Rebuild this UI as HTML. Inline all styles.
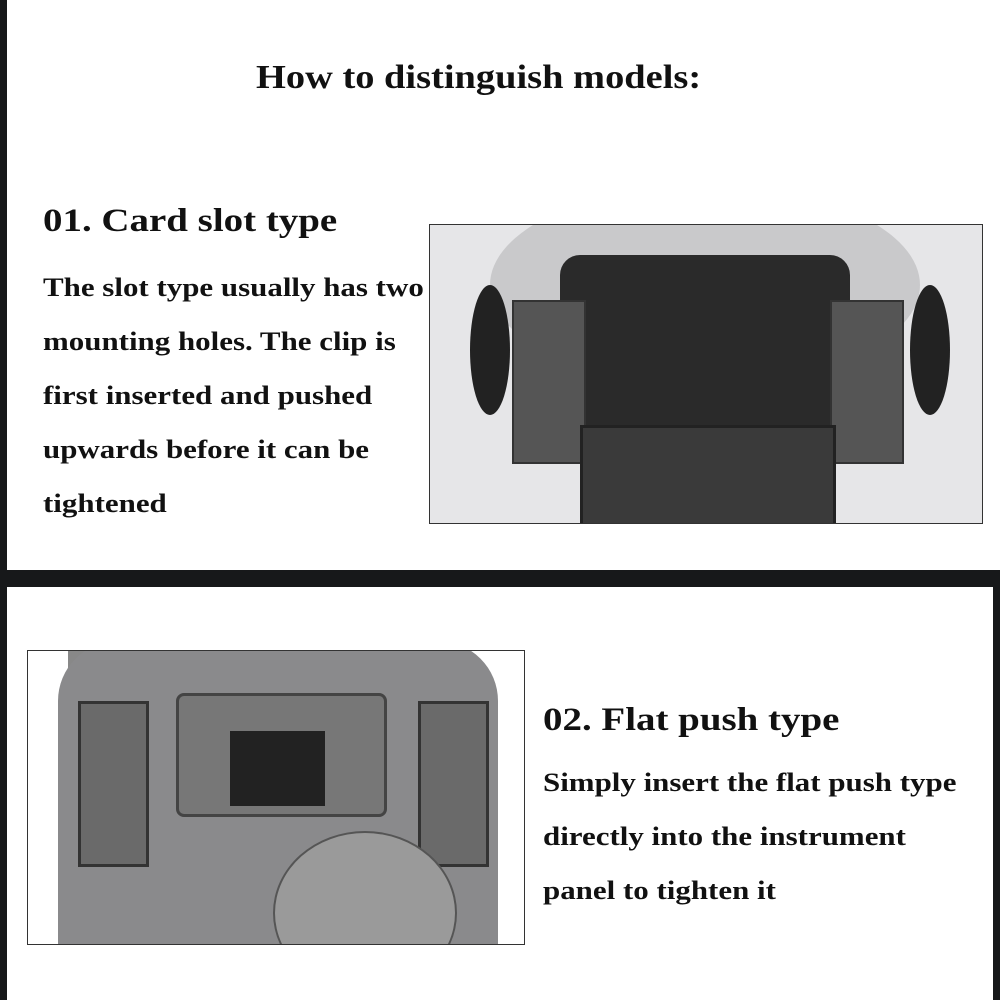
<!DOCTYPE html>
<html><head><style>
body{margin:0;width:1000px;height:1000px;background:#17181a;position:relative;overflow:hidden;font-family:"Liberation Serif",serif;}
.p{position:absolute;background:#fff;}
.t{position:absolute;color:#111;font-weight:bold;white-space:nowrap;transform-origin:0 0;}
.ph{position:absolute;border:1px solid #333;overflow:hidden;background:#ddd;}
.a{position:absolute;}
</style></head><body>
<div class="p" style="left:7px;top:0;width:993px;height:570px"></div>
<div class="p" style="left:7px;top:587px;width:986px;height:413px"></div>
<div class="t" style="left:256px;top:59px;font-size:34px;transform:scaleX(1.13)">How to distinguish models:</div>
<div class="t" style="left:43px;top:203px;font-size:33px;transform:scaleX(1.18)">01. Card slot type</div>
<div class="t" style="left:43px;top:261px;font-size:26px;line-height:54.1px;transform:scaleX(1.19)">The slot type usually has two<br>mounting holes. The clip is<br>first inserted and pushed<br>upwards before it can be<br>tightened</div>
<div class="ph" style="left:429px;top:224px;width:552px;height:298px;background:#e6e6e8">
 <div class="a" style="left:60px;top:-40px;width:430px;height:200px;border-radius:50%;background:#c9c9cb"></div>
 <div class="a" style="left:40px;top:60px;width:40px;height:130px;border-radius:50%;background:#222"></div>
 <div class="a" style="left:480px;top:60px;width:40px;height:130px;border-radius:50%;background:#222"></div>
 <div class="a" style="left:130px;top:30px;width:290px;height:200px;background:#2a2a2a;border-radius:20px"></div>
 <div class="a" style="left:82px;top:75px;width:70px;height:160px;background:#555;border:2px solid #333"></div>
 <div class="a" style="left:400px;top:75px;width:70px;height:160px;background:#555;border:2px solid #333"></div>
 <div class="a" style="left:150px;top:200px;width:250px;height:95px;background:#3a3a3a;border:3px solid #222"></div>
</div>
<div class="ph" style="left:27px;top:650px;width:496px;height:293px;background:#888">
 <div class="a" style="left:0;top:0;width:40px;height:293px;background:#fff"></div>
 <div class="a" style="left:440px;top:0;width:56px;height:293px;background:#fff"></div>
 <div class="a" style="left:30px;top:-10px;width:440px;height:320px;background:#8a8a8c;border-radius:60px 60px 0 0"></div>
 <div class="a" style="left:50px;top:50px;width:65px;height:160px;background:#6a6a6a;border:3px solid #333"></div>
 <div class="a" style="left:390px;top:50px;width:65px;height:160px;background:#6a6a6a;border:3px solid #333"></div>
 <div class="a" style="left:148px;top:42px;width:205px;height:118px;background:#777;border:3px solid #444;border-radius:8px"></div>
 <div class="a" style="left:202px;top:80px;width:95px;height:75px;background:#222"></div>
 <div class="a" style="left:245px;top:180px;width:180px;height:160px;border-radius:50%;background:#9a9a9a;border:2px solid #555"></div>
</div>
<div class="t" style="left:543px;top:702px;font-size:33px;transform:scaleX(1.18)">02. Flat push type</div>
<div class="t" style="left:543px;top:756px;font-size:26px;line-height:54.1px;transform:scaleX(1.19)">Simply insert the flat push type<br>directly into the instrument<br>panel to tighten it</div>
</body></html>
